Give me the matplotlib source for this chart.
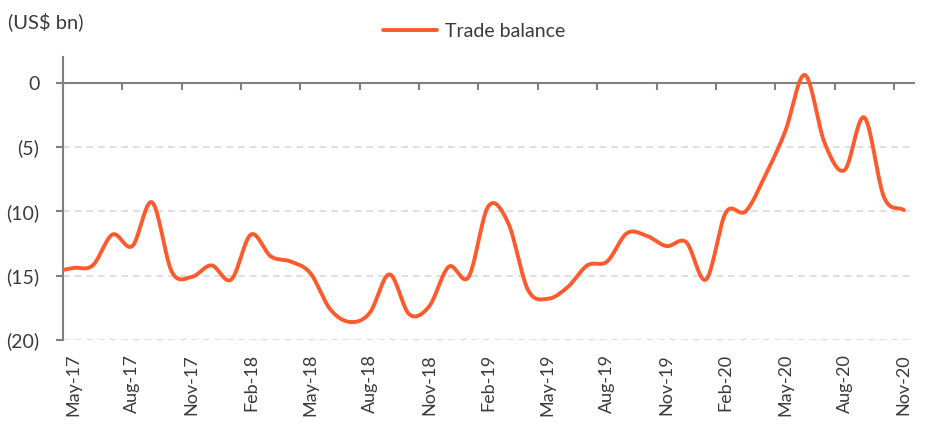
import numpy as np
import matplotlib.pyplot as plt

plt.rcParams['font.family'] = ['Lato', 'DejaVu Sans']

# Monthly trade balance (US$ bn), Apr-17 .. Nov-20 (Apr-17 sits just left of the axis)
months = ["Apr-17",
          "May-17", "Jun-17", "Jul-17", "Aug-17", "Sep-17", "Oct-17", "Nov-17", "Dec-17",
          "Jan-18", "Feb-18", "Mar-18", "Apr-18", "May-18", "Jun-18", "Jul-18", "Aug-18",
          "Sep-18", "Oct-18", "Nov-18", "Dec-18", "Jan-19", "Feb-19", "Mar-19", "Apr-19",
          "May-19", "Jun-19", "Jul-19", "Aug-19", "Sep-19", "Oct-19", "Nov-19", "Dec-19",
          "Jan-20", "Feb-20", "Mar-20", "Apr-20", "May-20", "Jun-20", "Jul-20", "Aug-20",
          "Sep-20", "Oct-20", "Nov-20"]
trade_balance = [-14.7,
                 -14.4, -14.2, -11.8, -12.7, -9.3, -14.7, -15.1, -14.2,
                 -15.3, -11.8, -13.5, -13.9, -14.8, -17.6, -18.6, -17.9,
                 -14.9, -18.0, -17.4, -14.3, -15.1, -9.6, -10.9, -16.1,
                 -16.8, -15.9, -14.2, -13.9, -11.7, -11.9, -12.7, -12.4,
                 -15.3, -10.1, -10.0, -7.2, -3.8, 0.6, -4.7, -6.8,
                 -2.7, -8.9, -9.9]
tick_labels = months[1::3]

LINE = "#ff5a2d"
AXIS = "#808080"
TEXT = "#3a3a3a"


def smooth(x, y, n=20):
    # Catmull-Rom style curve through the points (like a "smoothed line")
    x = np.asarray(x, float)
    y = np.asarray(y, float)
    px = np.concatenate([[2 * x[0] - x[1]], x, [2 * x[-1] - x[-2]]])
    py = np.concatenate([[2 * y[0] - y[1]], y, [2 * y[-1] - y[-2]]])
    xs, ys = [], []
    t = np.linspace(0, 1, n, endpoint=False)
    for i in range(1, len(px) - 2):
        for p, out in ((px, xs), (py, ys)):
            p0, p1, p2, p3 = p[i - 1], p[i], p[i + 1], p[i + 2]
            out.extend(0.5 * (2 * p1 + (-p0 + p2) * t
                              + (2 * p0 - 5 * p1 + 4 * p2 - p3) * t ** 2
                              + (-p0 + 3 * p1 - 3 * p2 + p3) * t ** 3))
    xs.append(x[-1])
    ys.append(y[-1])
    return np.array(xs), np.array(ys)


fig = plt.figure(figsize=(9.41, 4.25), dpi=100)
ax = fig.add_axes([0.067, 0.2, 0.904, 0.666])

x = np.arange(len(months)) - 0.5  # category centres, May-17 = 0.5
sx, sy = smooth(x, trade_balance)
ax.plot(sx, sy, color=LINE, lw=2.8, solid_capstyle='round', zorder=3, label="Trade balance")

ax.set_xlim(0, 43)
ax.set_ylim(-20, 2)

# y axis
ax.set_yticks([0, -5, -10, -15, -20])
ax.set_yticklabels(["0", "(5)", "(10)", "(15)", "(20)"])
ax.tick_params(axis='y', direction='out', length=5, width=1.5, color=AXIS,
               labelsize=14, labelcolor=TEXT, pad=12)
for v in [-5, -10, -15, -20]:
    ax.axhline(v, color="#d9d9d9", lw=1.2, ls=(0, (4, 3)), zorder=1)

for s in ['right', 'bottom']:
    ax.spines[s].set_visible(False)
ax.spines['left'].set_color(AXIS)
ax.spines['left'].set_linewidth(1.5)

# category axis drawn at zero with ticks between categories
ax.spines['top'].set_position(('data', 0))
ax.spines['top'].set_color(AXIS)
ax.spines['top'].set_linewidth(1.5)
ax.xaxis.set_ticks_position('top')
ax.set_xticks(np.arange(0, 43, 3))
ax.tick_params(axis='x', direction='in', length=5, width=1.5, color=AXIS, labeltop=False)

# month labels at the bottom
sec = ax.secondary_xaxis('bottom')
sec.set_xticks(np.arange(0, 43, 3) + 0.5)
sec.set_xticklabels(tick_labels, rotation=90)
sec.tick_params(length=0, labelsize=13, labelcolor=TEXT, pad=10)
sec.spines['bottom'].set_visible(False)

fig.text(0.008, 0.948, "(US$ bn)", fontsize=14.5, color=TEXT, va='center')
fig.legend(loc='center', bbox_to_anchor=(0.504, 0.927), frameon=False,
           fontsize=14, handlelength=2.8, handletextpad=0.4, labelcolor=TEXT)

fig.savefig("out.png", dpi=100)
